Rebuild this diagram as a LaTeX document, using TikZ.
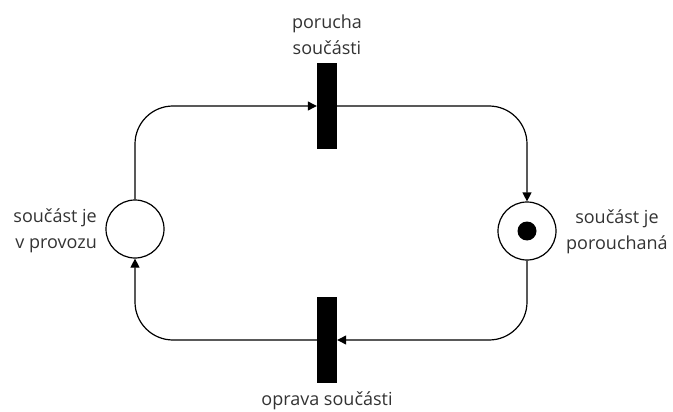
\documentclass[tikz,border=0pt]{standalone}
\usepackage{fontspec}
\setmainfont{Open Sans}
\usetikzlibrary{arrows.meta}
\definecolor{txt}{HTML}{333333}
\begin{document}
\begin{tikzpicture}[x=1pt,y=-1pt,
  place/.style={circle,draw,line width=1.2pt,minimum size=58pt,inner sep=0pt},
  trans/.style={rectangle,fill=black,minimum width=20pt,minimum height=86pt,inner sep=0pt},
  lbl/.style={text=txt,font=\fontsize{18}{26}\selectfont,align=center,inner sep=0pt},
  arc/.style={line width=1.2pt,rounded corners=38pt,-{Triangle[length=9pt,width=9pt]}}]
\useasboundingbox (0,0) rectangle (673,412);
\node[place] (p1) at (135,229) {};
\node[place] (p2) at (527,231) {};
\fill (p2.center) circle (9.5pt);
\node[trans] (t1) at (327,106) {};
\node[trans] (t2) at (327,340) {};
\node[lbl,anchor=south] (l1) at (327,55) {porucha\\součásti};
\node[lbl,anchor=north] (l2) at (327,392) {oprava součásti};
\node[lbl,align=right,anchor=east] (l3) at (97,231) {součást je\\v provozu};
\node[lbl,anchor=west] (l4) at (566,232) {součást je\\porouchaná};
\draw[arc] (p1.north) |- (t1.west);
\draw[arc] (t1.east) -| (p2.north);
\draw[arc] (p2.south) |- (t2.east);
\draw[arc] (t2.west) -| (p1.south);
\end{tikzpicture}
\end{document}
